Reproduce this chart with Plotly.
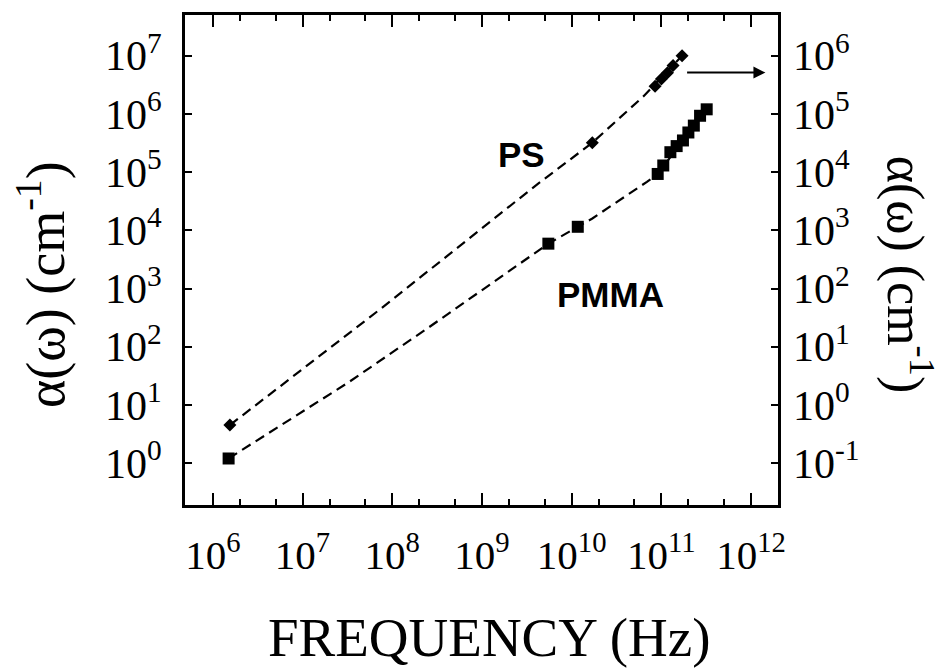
import plotly.graph_objects as go

# ---- data ----
# PMMA (left axis), markers
pmma_freq = [1.5e6, 5.5e9, 1.17e10, 9.1e10, 1.05e11, 1.26e11, 1.48e11, 1.74e11, 2.0e11, 2.3e11, 2.7e11, 3.2e11]
pmma_alpha = [1.2, 5.9e3, 1.15e4, 9.3e4, 1.3e5, 2.2e5, 2.8e5, 3.5e5, 4.8e5, 6.3e5, 9.3e5, 1.2e6]
# PMMA dashed guide line
pmma_line_freq = [1.5e6, 3.2e7, 2.5e8, 5.5e9, 1.17e10, 1.7e10, 6.9e10, 9.1e10, 1.74e11, 3.2e11]
pmma_line_alpha = [1.2, 2.4e1, 2.1e2, 5.9e3, 1.15e4, 1.6e4, 6.8e4, 9.3e4, 3.5e5, 1.2e6]

# PS (right axis), markers
ps_freq = [1.55e6, 1.7e10, 8.5e10, 1.0e11, 1.17e11, 1.35e11, 1.7e11]
ps_alpha = [0.45, 3.2e4, 3.0e5, 4.0e5, 5.1e5, 6.8e5, 1.0e6]
# PS dashed guide line
ps_line_freq = [1.55e6, 7.6e7, 4.2e9, 1.7e10, 6.3e10, 1.7e11]
ps_line_alpha = [0.45, 4.6e1, 6.3e3, 3.2e4, 2.0e5, 1.0e6]

x_ticks = [1e6, 1e7, 1e8, 1e9, 1e10, 1e11, 1e12]
x_ticktext = ["10<sup>6</sup>", "10<sup>7</sup>", "10<sup>8</sup>", "10<sup>9</sup>",
              "10<sup>10</sup>", "10<sup>11</sup>", "10<sup>12</sup>"]
yl_ticks = [1e0, 1e1, 1e2, 1e3, 1e4, 1e5, 1e6, 1e7]
yl_ticktext = ["10<sup>0</sup>", "10<sup>1</sup>", "10<sup>2</sup>", "10<sup>3</sup>",
               "10<sup>4</sup>", "10<sup>5</sup>", "10<sup>6</sup>", "10<sup>7</sup>"]
yr_ticks = [1e-1, 1e0, 1e1, 1e2, 1e3, 1e4, 1e5, 1e6]
yr_ticktext = ["10<sup>-1</sup>", "10<sup>0</sup>", "10<sup>1</sup>", "10<sup>2</sup>",
               "10<sup>3</sup>", "10<sup>4</sup>", "10<sup>5</sup>", "10<sup>6</sup>"]

SERIF = "Liberation Serif, Times New Roman, serif"
SANS = "Liberation Sans, Arial, sans-serif"

fig = go.Figure()
dash = "10px,6px"
fig.add_trace(go.Scatter(x=pmma_line_freq, y=pmma_line_alpha, mode="lines",
                         line=dict(color="black", width=2.2, dash=dash), yaxis="y"))
fig.add_trace(go.Scatter(x=pmma_freq, y=pmma_alpha, mode="markers",
                         marker=dict(symbol="square", size=12, color="black"), yaxis="y"))
fig.add_trace(go.Scatter(x=ps_line_freq, y=ps_line_alpha, mode="lines",
                         line=dict(color="black", width=2.2, dash=dash), yaxis="y2"))
fig.add_trace(go.Scatter(x=ps_freq, y=ps_alpha, mode="markers",
                         marker=dict(symbol="diamond", size=10, color="black"), yaxis="y2"))

fig.update_layout(
    width=948, height=669,
    margin=dict(l=177, r=178, t=4, b=172),
    paper_bgcolor="white", plot_bgcolor="white",
    showlegend=False,
    xaxis=dict(type="log", range=[5.69, 12.3], tickvals=x_ticks, ticktext=x_ticktext,
               ticks="inside", ticklen=12, tickwidth=2, tickcolor="black",
               minor=dict(ticks="inside", ticklen=6, tickwidth=1.5, tickcolor="black"),
               showline=True, linewidth=3, linecolor="black", mirror="ticks",
               showgrid=False, zeroline=False, ticklabelstandoff=12,
               tickfont=dict(family=SERIF, size=41, color="black")),
    yaxis=dict(type="log", range=[-0.72, 7.70], tickvals=yl_ticks, ticktext=yl_ticktext,
               ticks="inside", ticklen=7, tickwidth=2, tickcolor="black",
               showline=True, linewidth=3, linecolor="black", mirror=True,
               showgrid=False, zeroline=False, ticklabelstandoff=12,
               tickfont=dict(family=SERIF, size=42, color="black")),
    yaxis2=dict(type="log", range=[-1.72, 6.70], tickvals=yr_ticks, ticktext=yr_ticktext,
                overlaying="y", side="right",
                ticks="inside", ticklen=7, tickwidth=2, tickcolor="black",
                showline=False, showgrid=False, zeroline=False, ticklabelstandoff=14,
                tickfont=dict(family=SERIF, size=42, color="black")),
)

fig.add_annotation(x=0.513, y=-0.270, xref="paper", yref="paper", text="FREQUENCY (Hz)",
                   xanchor="center", yanchor="middle",
                   showarrow=False, font=dict(family=SERIF, size=55, color="black"))
fig.add_annotation(x=-0.242, y=0.45, xref="paper", yref="paper",
                   text="α(ω) (cm<sup>-1</sup>)", textangle=-90,
                   xanchor="center", yanchor="middle",
                   showarrow=False, font=dict(family=SERIF, size=54, color="black"))
fig.add_annotation(x=1.221, y=0.47, xref="paper", yref="paper",
                   text="α(ω) (cm<sup>-1</sup>)", textangle=90,
                   xanchor="center", yanchor="middle",
                   showarrow=False, font=dict(family=SERIF, size=52, color="black"))
fig.add_annotation(x=9.44, y=5.31, xref="x", yref="y", text="<b>PS</b>",
                   xanchor="center", yanchor="middle",
                   showarrow=False, font=dict(family=SANS, size=35, color="black"))
fig.add_annotation(x=10.43, y=2.90, xref="x", yref="y", text="<b>PMMA</b>",
                   xanchor="center", yanchor="middle",
                   showarrow=False, font=dict(family=SANS, size=35, color="black"))
fig.add_annotation(x=12.16, y=6.71, ax=11.27, ay=6.71, xref="x", yref="y",
                   axref="x", ayref="y", text="", showarrow=True,
                   arrowhead=2, arrowsize=1.2, arrowwidth=2, arrowcolor="black")

fig.write_html("out.html")
